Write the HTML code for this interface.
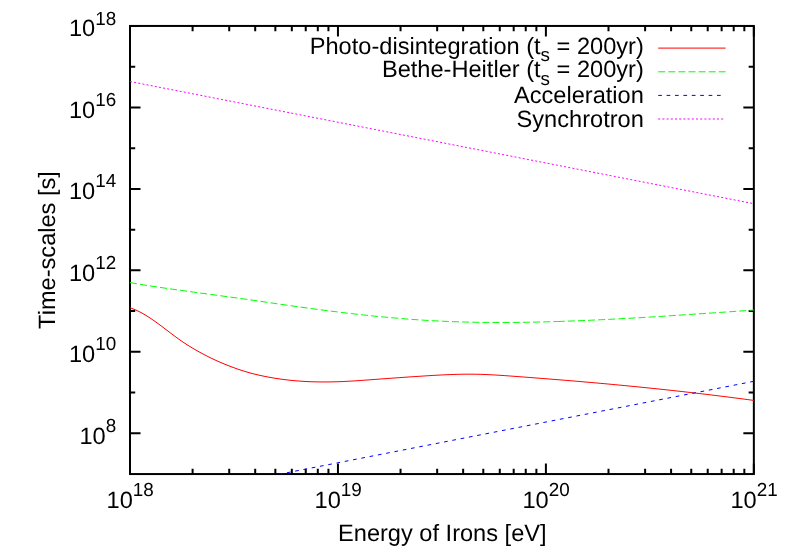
<!DOCTYPE html>
<html><head><meta charset="utf-8"><title>Time-scales</title>
<style>html,body{margin:0;padding:0;background:#fff;}svg{display:block;will-change:transform;}text{font-family:"Liberation Sans",sans-serif;fill:#000;text-rendering:geometricPrecision;}</style>
</head><body>
<svg width="789" height="550" viewBox="0 0 789 550">
<rect width="789" height="550" fill="#fff"/>
<rect x="130.0" y="25.95" width="623.85" height="448.1" fill="none" stroke="#000" stroke-width="2"/>
<path d="M130.00,25.95h10.5M753.85,25.95h-10.5M130.00,66.69h5.2M753.85,66.69h-5.2M130.00,107.42h10.5M753.85,107.42h-10.5M130.00,148.16h5.2M753.85,148.16h-5.2M130.00,188.90h10.5M753.85,188.90h-10.5M130.00,229.63h5.2M753.85,229.63h-5.2M130.00,270.37h10.5M753.85,270.37h-10.5M130.00,311.10h5.2M753.85,311.10h-5.2M130.00,351.84h10.5M753.85,351.84h-10.5M130.00,392.58h5.2M753.85,392.58h-5.2M130.00,433.31h10.5M753.85,433.31h-10.5M130.00,474.05v-10.5M130.00,25.95v10.5M192.60,474.05v-5.2M192.60,25.95v5.2M229.22,474.05v-5.2M229.22,25.95v5.2M255.20,474.05v-5.2M255.20,25.95v5.2M275.35,474.05v-5.2M275.35,25.95v5.2M291.82,474.05v-5.2M291.82,25.95v5.2M305.74,474.05v-5.2M305.74,25.95v5.2M317.80,474.05v-5.2M317.80,25.95v5.2M328.43,474.05v-5.2M328.43,25.95v5.2M337.95,474.05v-10.5M337.95,25.95v10.5M400.55,474.05v-5.2M400.55,25.95v5.2M437.17,474.05v-5.2M437.17,25.95v5.2M463.15,474.05v-5.2M463.15,25.95v5.2M483.30,474.05v-5.2M483.30,25.95v5.2M499.77,474.05v-5.2M499.77,25.95v5.2M513.69,474.05v-5.2M513.69,25.95v5.2M525.75,474.05v-5.2M525.75,25.95v5.2M536.38,474.05v-5.2M536.38,25.95v5.2M545.90,474.05v-10.5M545.90,25.95v10.5M608.50,474.05v-5.2M608.50,25.95v5.2M645.12,474.05v-5.2M645.12,25.95v5.2M671.10,474.05v-5.2M671.10,25.95v5.2M691.25,474.05v-5.2M691.25,25.95v5.2M707.72,474.05v-5.2M707.72,25.95v5.2M721.64,474.05v-5.2M721.64,25.95v5.2M733.70,474.05v-5.2M733.70,25.95v5.2M744.33,474.05v-5.2M744.33,25.95v5.2M753.85,474.05v-10.5M753.85,25.95v10.5" stroke="#000" stroke-width="2" fill="none"/>
<g fill="none" stroke-width="1.0">
<path d="M130.0,307.73 L133.0,308.86 L136.0,310.10 L139.0,311.50 L142.0,313.08 L145.0,314.82 L148.0,316.68 L151.0,318.65 L154.0,320.72 L157.0,322.85 L160.0,325.06 L163.0,327.31 L166.0,329.60 L169.0,331.89 L172.0,334.17 L175.0,336.40 L178.0,338.58 L181.0,340.69 L184.0,342.73 L187.0,344.69 L190.0,346.57 L193.0,348.39 L196.0,350.14 L199.0,351.84 L202.0,353.48 L205.0,355.06 L208.0,356.59 L211.0,358.07 L214.0,359.49 L217.0,360.87 L220.0,362.19 L223.0,363.47 L226.0,364.70 L229.0,365.89 L232.0,367.04 L235.0,368.14 L238.0,369.19 L241.0,370.19 L244.0,371.15 L247.0,372.07 L250.0,372.92 L253.0,373.72 L256.0,374.46 L259.0,375.16 L262.0,375.82 L265.0,376.44 L268.0,377.02 L271.0,377.57 L274.0,378.08 L277.0,378.55 L280.0,378.99 L283.0,379.40 L286.0,379.78 L289.0,380.13 L292.0,380.45 L295.0,380.73 L298.0,380.98 L301.0,381.20 L304.0,381.39 L307.0,381.55 L310.0,381.68 L313.0,381.79 L316.0,381.87 L319.0,381.92 L322.0,381.95 L325.0,381.96 L328.0,381.94 L331.0,381.90 L334.0,381.83 L337.0,381.75 L339.9,381.65 L342.9,381.52 L345.9,381.38 L348.9,381.22 L351.9,381.05 L354.9,380.87 L357.9,380.67 L360.9,380.46 L363.9,380.24 L366.9,380.02 L369.9,379.80 L372.9,379.57 L375.9,379.35 L378.9,379.13 L381.9,378.90 L384.9,378.68 L387.9,378.46 L390.9,378.25 L393.9,378.03 L396.9,377.82 L399.9,377.61 L402.9,377.40 L405.9,377.19 L408.9,376.98 L411.9,376.78 L414.9,376.58 L417.9,376.38 L420.9,376.19 L423.9,375.99 L426.9,375.80 L429.9,375.62 L432.9,375.44 L435.9,375.26 L438.9,375.10 L441.9,374.94 L444.9,374.80 L447.9,374.67 L450.9,374.55 L453.9,374.44 L456.9,374.36 L459.9,374.28 L462.9,374.23 L465.9,374.20 L468.9,374.18 L471.9,374.19 L474.9,374.23 L477.9,374.28 L480.9,374.36 L483.9,374.46 L486.9,374.59 L489.9,374.73 L492.9,374.88 L495.9,375.05 L498.9,375.24 L501.9,375.43 L504.9,375.64 L507.9,375.85 L510.9,376.07 L513.9,376.29 L516.9,376.51 L519.9,376.74 L522.9,376.96 L525.9,377.19 L528.9,377.42 L531.9,377.65 L534.9,377.88 L537.9,378.11 L540.9,378.35 L543.9,378.58 L546.9,378.82 L549.9,379.06 L552.9,379.30 L555.9,379.54 L558.9,379.78 L561.9,380.03 L564.9,380.27 L567.9,380.52 L570.9,380.77 L573.9,381.02 L576.9,381.28 L579.9,381.53 L582.9,381.79 L585.9,382.05 L588.9,382.31 L591.9,382.57 L594.9,382.84 L597.9,383.10 L600.9,383.37 L603.9,383.64 L606.9,383.92 L609.9,384.19 L612.9,384.47 L615.9,384.75 L618.9,385.04 L621.9,385.32 L624.9,385.61 L627.9,385.90 L630.9,386.19 L633.9,386.49 L636.9,386.78 L639.9,387.08 L642.9,387.38 L645.9,387.69 L648.9,387.99 L651.9,388.30 L654.9,388.61 L657.9,388.93 L660.9,389.25 L663.9,389.56 L666.9,389.89 L669.9,390.21 L672.9,390.54 L675.9,390.87 L678.9,391.20 L681.9,391.53 L684.9,391.87 L687.9,392.21 L690.9,392.56 L693.9,392.90 L696.9,393.25 L699.9,393.60 L702.9,393.96 L705.9,394.31 L708.9,394.67 L711.9,395.03 L714.9,395.40 L717.9,395.77 L720.9,396.14 L723.9,396.51 L726.9,396.89 L729.9,397.27 L732.9,397.66 L735.9,398.04 L738.9,398.43 L741.9,398.82 L744.9,399.22 L747.9,399.62 L750.9,400.02 L753.9,400.42" stroke="#ff0000"/>
<path d="M130.0,282.61 L133.0,283.12 L136.0,283.63 L139.0,284.13 L142.0,284.62 L145.0,285.10 L148.0,285.57 L151.0,286.04 L154.0,286.50 L157.0,286.95 L160.0,287.40 L163.0,287.85 L166.0,288.28 L169.0,288.71 L172.0,289.14 L175.0,289.57 L178.0,289.99 L181.0,290.40 L184.0,290.81 L187.0,291.23 L190.0,291.63 L193.0,292.04 L196.0,292.44 L199.0,292.85 L202.0,293.25 L205.0,293.65 L208.0,294.06 L211.0,294.46 L214.0,294.86 L217.0,295.27 L220.0,295.67 L223.0,296.08 L226.0,296.49 L229.0,296.90 L232.0,297.31 L235.0,297.72 L238.0,298.14 L241.0,298.56 L244.0,298.98 L247.0,299.40 L250.0,299.83 L253.0,300.26 L256.0,300.70 L259.0,301.13 L262.0,301.57 L265.0,302.00 L268.0,302.44 L271.0,302.88 L274.0,303.32 L277.0,303.75 L280.0,304.19 L283.0,304.62 L286.0,305.05 L289.0,305.48 L292.0,305.90 L295.0,306.32 L298.0,306.74 L301.0,307.16 L304.0,307.57 L307.0,307.98 L310.0,308.39 L313.0,308.79 L316.0,309.19 L319.0,309.58 L322.0,309.98 L325.0,310.36 L328.0,310.75 L331.0,311.13 L334.0,311.50 L337.0,311.87 L339.9,312.24 L342.9,312.60 L345.9,312.96 L348.9,313.31 L351.9,313.66 L354.9,314.00 L357.9,314.34 L360.9,314.67 L363.9,315.00 L366.9,315.32 L369.9,315.63 L372.9,315.94 L375.9,316.24 L378.9,316.54 L381.9,316.83 L384.9,317.12 L387.9,317.40 L390.9,317.67 L393.9,317.93 L396.9,318.19 L399.9,318.44 L402.9,318.69 L405.9,318.93 L408.9,319.16 L411.9,319.38 L414.9,319.60 L417.9,319.80 L420.9,320.00 L423.9,320.20 L426.9,320.38 L429.9,320.56 L432.9,320.73 L435.9,320.89 L438.9,321.04 L441.9,321.18 L444.9,321.32 L447.9,321.45 L450.9,321.57 L453.9,321.68 L456.9,321.78 L459.9,321.88 L462.9,321.97 L465.9,322.05 L468.9,322.12 L471.9,322.19 L474.9,322.25 L477.9,322.30 L480.9,322.35 L483.9,322.39 L486.9,322.42 L489.9,322.45 L492.9,322.47 L495.9,322.48 L498.9,322.49 L501.9,322.49 L504.9,322.48 L507.9,322.47 L510.9,322.45 L513.9,322.43 L516.9,322.40 L519.9,322.37 L522.9,322.33 L525.9,322.28 L528.9,322.23 L531.9,322.18 L534.9,322.11 L537.9,322.05 L540.9,321.98 L543.9,321.91 L546.9,321.83 L549.9,321.74 L552.9,321.65 L555.9,321.56 L557.8,321.50" stroke="#00ff00" stroke-dasharray="7.03 3.11"/>
<path d="M557.8,321.50 L558.9,321.47 L561.9,321.37 L564.9,321.26 L567.9,321.15 L570.9,321.04 L573.9,320.93 L576.9,320.81 L579.9,320.69 L582.9,320.56 L585.9,320.43 L588.9,320.30 L591.9,320.17 L594.9,320.03 L597.9,319.89 L600.9,319.74 L603.9,319.60 L606.9,319.45 L609.9,319.30 L612.9,319.15 L615.9,318.99 L618.9,318.83 L621.9,318.67 L624.9,318.51 L627.9,318.34 L630.9,318.17 L633.9,318.00 L636.9,317.83 L639.9,317.66 L642.9,317.48 L645.9,317.30 L648.9,317.12 L651.9,316.93 L654.9,316.75 L657.9,316.56 L660.9,316.37 L663.9,316.17 L666.9,315.98 L669.9,315.78 L672.9,315.58 L675.9,315.38 L678.9,315.18 L681.9,314.98 L684.9,314.77 L687.9,314.57 L690.9,314.36 L693.9,314.17 L696.9,313.97 L699.9,313.78 L702.9,313.58 L705.9,313.38 L708.9,313.18 L711.9,312.98 L714.9,312.77 L717.9,312.57 L720.9,312.36 L723.9,312.16 L726.9,311.96 L729.9,311.75 L732.9,311.54 L735.9,311.34 L738.9,311.13 L741.9,310.92 L744.9,310.70 L747.9,310.49 L750.9,310.27 L753.9,310.05" stroke="#00ff00" stroke-dasharray="7 3.1"/>
<path d="M280.38,474.05L753.85,381.30" stroke="#0000ff" stroke-dasharray="3.7 4.73" stroke-dashoffset="1.8"/>
<path d="M130.00,81.50L753.85,203.71" stroke="#ff00ff" stroke-dasharray="2 2.213"/>
<path d="M658.2,48.1H725.6" stroke="#ff0000"/>
<path d="M658.2,71.8H725.6" stroke="#00ff00" stroke-dasharray="7 3.1"/>
<path d="M658.2,95.4H722" stroke="#0000ff" stroke-dasharray="3.7 4.7"/>
<path d="M658.2,119H724.3" stroke="#ff00ff" stroke-dasharray="2 2.2"/>
</g>
<g font-size="23.6">
<text x="116.2" y="36.4" text-anchor="end">10<tspan font-size="18.88" dy="-11.9">18</tspan></text>
<text x="116.2" y="117.8" text-anchor="end">10<tspan font-size="18.88" dy="-11.9">16</tspan></text>
<text x="116.2" y="199.3" text-anchor="end">10<tspan font-size="18.88" dy="-11.9">14</tspan></text>
<text x="116.2" y="280.8" text-anchor="end">10<tspan font-size="18.88" dy="-11.9">12</tspan></text>
<text x="116.2" y="362.2" text-anchor="end">10<tspan font-size="18.88" dy="-11.9">10</tspan></text>
<text x="116.2" y="443.7" text-anchor="end">10<tspan font-size="18.88" dy="-11.9">8</tspan></text>
<text x="130.2" y="508.4" text-anchor="middle">10<tspan font-size="18.88" dy="-12.2">18</tspan></text>
<text x="338.2" y="508.4" text-anchor="middle">10<tspan font-size="18.88" dy="-12.2">19</tspan></text>
<text x="546.1" y="508.4" text-anchor="middle">10<tspan font-size="18.88" dy="-12.2">20</tspan></text>
<text x="754.1" y="508.4" text-anchor="middle">10<tspan font-size="18.88" dy="-12.2">21</tspan></text>
<text x="643.8" y="53.7" text-anchor="end">Photo-disintegration (t<tspan font-size="18.88" dy="7.6">s</tspan><tspan dy="-7.6"> = 200yr)</tspan></text>
<text x="643.8" y="77.4" text-anchor="end">Bethe-Heitler (t<tspan font-size="18.88" dy="7.6">s</tspan><tspan dy="-7.6"> = 200yr)</tspan></text>
<text x="643.8" y="102.5" text-anchor="end">Acceleration</text>
<text x="643.8" y="126.6" text-anchor="end">Synchrotron</text>
<text x="442.3" y="540.9" text-anchor="middle">Energy of Irons [eV]</text>
<text transform="translate(55.2,250) rotate(-90)" text-anchor="middle">Time-scales [s]</text>
</g>
</svg></body></html>
